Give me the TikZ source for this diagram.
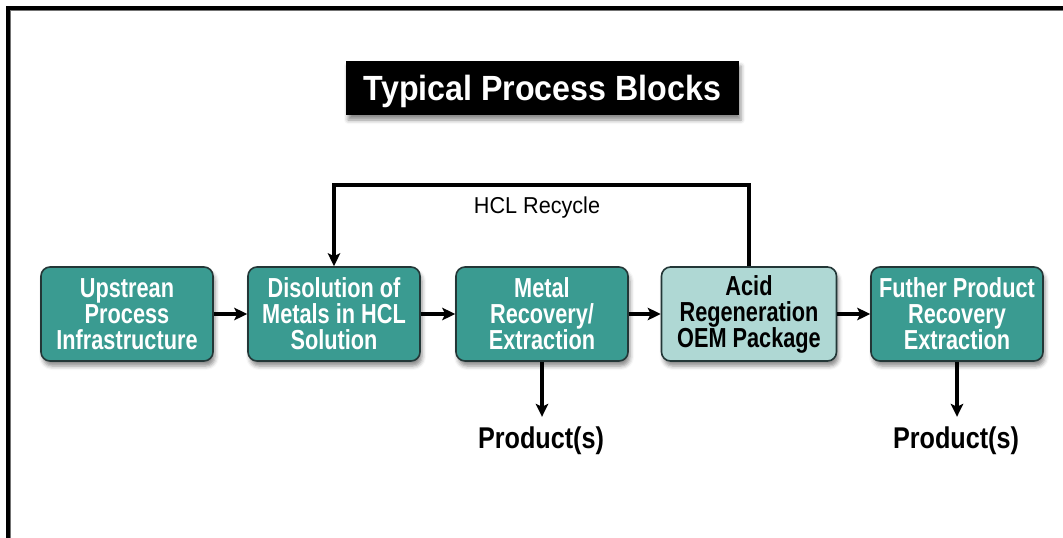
\documentclass[tikz,border=0pt]{standalone}
\usepackage{fontspec}
\setmainfont{Liberation Sans}
\newfontfamily\boxfont[FakeStretch=0.79]{Liberation Sans}
\newfontfamily\titlefont[FakeStretch=0.92]{Liberation Sans}
\newfontfamily\prodfont[FakeStretch=0.84]{Liberation Sans}
\newfontfamily\lblfont[FakeStretch=0.94]{Liberation Sans}
\usetikzlibrary{arrows.meta,shadows.blur}
\definecolor{tealbox}{RGB}{58,155,145}
\definecolor{lighttealbox}{RGB}{175,216,212}
\definecolor{boxedge}{RGB}{35,55,55}
\begin{document}
\begin{tikzpicture}[x=1pt,y=-1pt,
  shade/.style={blur shadow={shadow xshift=2pt, shadow yshift=-5pt, shadow blur radius=4pt, shadow opacity=45}},
  block/.style={draw=boxedge, line width=1.6pt, fill=tealbox, rounded corners=9pt,
    minimum width=172pt, minimum height=94pt, align=center, text=white, inner sep=0pt,
    font=\boxfont\bfseries\fontsize{27.5}{26}\selectfont, shade},
  lightblock/.style={block, fill=lighttealbox, text=black},
  titlebox/.style={fill=black, text=white, minimum width=393pt, minimum height=54pt, inner sep=0pt,
    text height=25pt, text depth=0pt, font=\titlefont\bfseries\fontsize{35}{35}\selectfont, shade},
  prod/.style={inner sep=0pt, font=\prodfont\bfseries\fontsize{30}{30}\selectfont},
  lbl/.style={inner sep=0pt, font=\lblfont\fontsize{23}{23}\selectfont},
  arr/.style={line width=3.1pt, -{Stealth[length=13pt,width=12.5pt,inset=3pt]}}]
\useasboundingbox (0,0) rectangle (1063,538);
% frame
\draw[line width=3.2pt, black] (8,540) -- (8,8) -- (1066,8);
\draw[line width=1.6pt, black!55] (10.5,540) -- (10.5,10.5) -- (1066,10.5);
% title
\node[titlebox] (title) at (542.5,88) {Typical Process Blocks};
% blocks
\node[block] (b1) at (127,314) {Upstrean\\Process\\Infrastructure};
\node[block] (b2) at (334,314) {Disolution of\\Metals in HCL\\Solution};
\node[block] (b3) at (542,314) {Metal\\Recovery/\\Extraction};
\node[lightblock, minimum width=175pt] (b4) at (749,314) {Acid\\Regeneration\\OEM Package};
\node[block] (b5) at (957,314) {Futher Product\\Recovery\\Extraction};
% horizontal arrows
\draw[arr] (b1) -- (b2);
\draw[arr] (b2) -- (b3);
\draw[arr] (b3) -- (b4);
\draw[arr] (b4) -- (b5);
% recycle
\coordinate (rtop) at (0,185);
\draw[arr] (b4.north) -- (b4.north |- rtop) -| (b2.north);
\node[lbl] (rlbl) at (537,208) {HCL Recycle};
% products
\node[prod] (p1) at (541,441) {Product(s)};
\node[prod] (p2) at (956,441) {Product(s)};
\draw[arr, shorten >=10pt] (b3.south) -- (b3.south |- p1.north);
\draw[arr, shorten >=10pt] (b5.south) -- (b5.south |- p2.north);
\end{tikzpicture}
\end{document}
